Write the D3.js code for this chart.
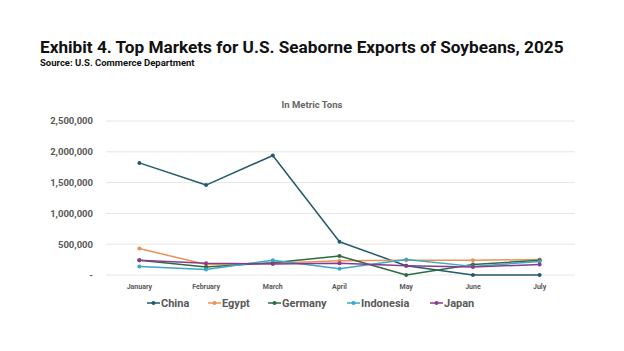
<!DOCTYPE html>
<html>
<head>
<meta charset="utf-8">
<script src="https://cdn.jsdelivr.net/npm/d3@7"></script>
<style>
  body { margin: 0; background: #fff; }
  svg { display: block; font-family: Roboto, "Liberation Sans", sans-serif; }
</style>
</head>
<body>
<div id="chart"></div>
<script>
// дані
const months = ["January", "February", "March", "April", "May", "June", "July"];
const countries = ["China", "Egypt", "Germany", "Indonesia", "Japan"];
const china = [1820000, 1460000, 1940000, 540000, 150000, 0, 0];
const egypt = [430000, 170000, 190000, 230000, 240000, 240000, 250000];
const germany = [240000, 130000, 200000, 310000, 0, 170000, 240000];
const indonesia = [140000, 90000, 240000, 100000, 250000, 140000, 220000];
const japan = [240000, 190000, 180000, 190000, 150000, 130000, 170000];
const yTicks = [0, 500000, 1000000, 1500000, 2000000, 2500000];
const colors = ["#235a6c", "#e8925a", "#2f6a42", "#3ba7cb", "#8b3b8d"];

const seriesValues = [china, egypt, germany, indonesia, japan];
const series = countries.map((name, i) => ({ name, color: colors[i], values: seriesValues[i] }));

const w = 624, h = 351;
const svg = d3.select("#chart").append("svg").attr("width", w).attr("height", h);

// заголовок
svg.append("text").attr("x", 40).attr("y", 53)
  .style("font-size", "17.2px").style("font-weight", "bold").style("fill", "#111")
  .text("Exhibit 4. Top Markets for U.S. Seaborne Exports of Soybeans, 2025");
svg.append("text").attr("x", 40).attr("y", 66)
  .style("font-size", "9.5px").style("font-weight", "bold").style("fill", "#111")
  .text("Source: U.S. Commerce Department");
svg.append("text").attr("x", 312).attr("y", 108).attr("text-anchor", "middle")
  .style("font-size", "9.5px").style("font-weight", "bold").style("fill", "#666")
  .text("In Metric Tons");

// шкали
const x = d3.scalePoint().domain(months).range([106, 573]).padding(0.5);
const y = d3.scaleLinear().domain([0, 2500000]).range([275, 121]);

// сітка та вісь Y
const fmt = d3.format(",");
svg.append("g").selectAll("line").data(yTicks).join("line")
  .attr("x1", 106).attr("x2", 575)
  .attr("y1", d => y(d)).attr("y2", d => y(d))
  .attr("stroke", "#e6e6e6").attr("stroke-width", 1);
svg.append("g").selectAll("text").data(yTicks).join("text")
  .attr("x", 93).attr("y", d => y(d)).attr("dy", "0.35em").attr("text-anchor", "end")
  .style("font-size", "9.5px").style("font-weight", "bold").style("fill", "#595959")
  .text(d => d === 0 ? "-" : fmt(d));

// вісь X
svg.append("g").selectAll("text").data(months).join("text")
  .attr("x", d => x(d)).attr("y", 289).attr("text-anchor", "middle")
  .style("font-size", "7px").style("font-weight", "bold").style("fill", "#595959")
  .text(d => d);

// лінії
const line = d3.line().x((d, i) => x(months[i])).y(d => y(d));
const g = svg.append("g");
series.forEach(s => {
  g.append("path").attr("d", line(s.values)).attr("fill", "none")
    .attr("stroke", s.color).attr("stroke-width", 1.5).attr("stroke-linejoin", "round");
  g.selectAll(null).data(s.values).join("circle")
    .attr("cx", (d, i) => x(months[i])).attr("cy", d => y(d)).attr("r", 2)
    .attr("fill", s.color);
});

// легенда
const legX = [147, 208, 268, 347, 430];
const leg = svg.append("g").selectAll("g").data(series).join("g")
  .attr("transform", (d, i) => `translate(${legX[i]},303)`);
leg.append("line").attr("x1", 0).attr("x2", 13).attr("stroke", d => d.color).attr("stroke-width", 1.5);
leg.append("circle").attr("cx", 6.5).attr("r", 2).attr("fill", d => d.color);
leg.append("text").attr("x", 14).attr("dy", "0.35em")
  .style("font-size", "11px").style("font-weight", "bold").style("fill", "#595959")
  .text(d => d.name);
</script>
</body>
</html>
